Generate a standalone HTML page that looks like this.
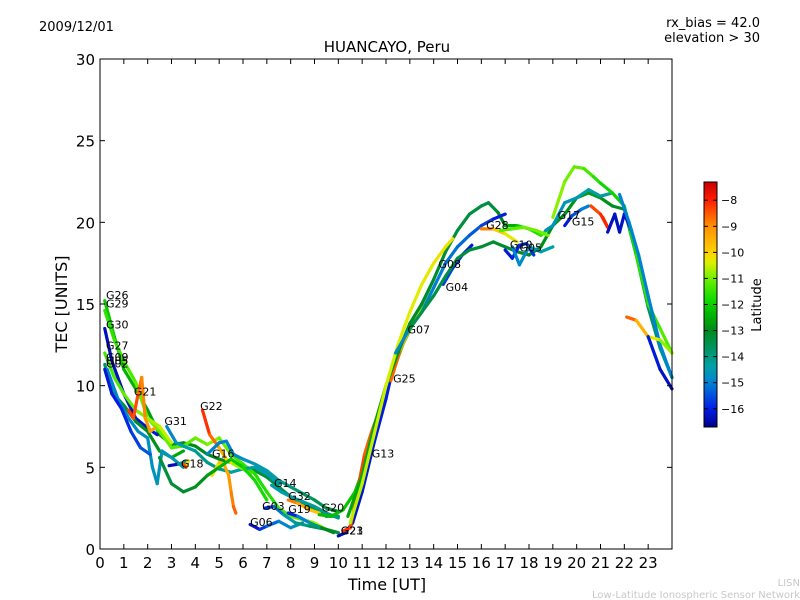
<!DOCTYPE html>
<html><head><meta charset="utf-8">
<style>
html,body{margin:0;padding:0;background:#fff;}
svg{display:block;font-family:"DejaVu Sans","Liberation Sans",sans-serif;}
</style></head>
<body>
<svg id="chart" width="800" height="600" viewBox="0 0 800 600">
  <rect x="0" y="0" width="800" height="600" fill="#fff"/>
  <text x="39" y="31" font-size="13">2009/12/01</text>
  <text x="760" y="27" font-size="13" text-anchor="end">rx_bias = 42.0</text>
  <text x="760" y="42" font-size="13" text-anchor="end">elevation &gt; 30</text>
  <text x="387" y="52" font-size="15" text-anchor="middle">HUANCAYO, Peru</text>
  <g id="series"></g>
  <g id="labels"></g>
  <rect x="100" y="59" width="572" height="490" fill="none" stroke="#000" stroke-width="1"/>
  <g id="xticks"></g>
  <g id="yticks"></g>
  <text x="387" y="590" font-size="16" text-anchor="middle">Time [UT]</text>
  <text x="0" y="0" font-size="16" text-anchor="middle" transform="translate(67,304) rotate(-90)">TEC [UNITS]</text>
  <defs>
    <linearGradient id="cbgrad" x1="0" y1="1" x2="0" y2="0"></linearGradient>
  </defs>
  <rect x="704" y="182" width="13" height="245" fill="url(#cbgrad)" stroke="#000" stroke-width="1"/>
  <g id="cbticks"></g>
  <text x="0" y="0" font-size="13" text-anchor="middle" transform="translate(761,305) rotate(-90)">Latitude</text>
  <text x="800" y="586" font-size="10" fill="#c8c8c8" text-anchor="end">LISN</text>
  <text x="800" y="598" font-size="10" fill="#c8c8c8" text-anchor="end">Low-Latitude Ionospheric Sensor Network</text>
</svg>
<script>
// ---- data ----
const xTicks = [0,1,2,3,4,5,6,7,8,9,10,11,12,13,14,15,16,17,18,19,20,21,22,23];
const yTicks = [0,5,10,15,20,25,30];
const cbTicks = [-8,-9,-10,-11,-12,-13,-14,-15,-16];
// series: name, hours, tec, latitude per point
const sHours = [], sTec = [], sLat = [], sName = [];
function add(n,h,t,l){sName.push(n);sHours.push(h);sTec.push(t);sLat.push(l);}
add('G26',[0.2,0.6,1,1.5,2,2.5,3,3.5,4,4.5,5,5.5,6,6.5,7,7.5,8,8.5,9,9.5,10],[15.2,13,11,9.8,8.5,7,6.4,6.5,6.3,5.8,5.5,5.3,5.1,4.8,4.4,3.8,3.2,2.8,2.4,2.0,2.0],[-12,-12.2,-12.3,-12.5,-12.6,-12.8,-12.8,-12.9,-13,-13,-13,-13.1,-13.2,-13.2,-13.3,-13.4,-13.4,-13.5,-13.5,-13.6,-13.6]);
add('G29',[0.2,0.6,1,1.5,2,2.5,3,3.5,4,4.5,5,5.5,6,6.5,7,7.5,8,8.5,9,9.5,10],[14.6,12.8,11.5,10.2,8,7.2,6.2,6.3,6.8,6.4,6.8,5.8,5.2,4.6,3.5,2.5,2.0,1.8,1.6,1.2,1.0],[-11.6,-11.5,-11.4,-11.2,-11.0,-11,-11.2,-11.3,-11.1,-11,-10.8,-11.3,-11.5,-11.6,-11.8,-11.5,-11.2,-11,-10.8,-10.5,-10.4]);
add('G30',[0.2,0.5,1,1.5,2,2.4],[13.5,11.5,9.5,8.0,7.4,7.0],[-16.4,-16.3,-16.3,-16.2,-16.2,-16.1]);
add('G27',[0.2,0.6,1,1.5,2,2.5,3],[12,10.5,9.5,8.5,8,7.5,6.5],[-11.4,-11.3,-11.2,-11,-10.8,-10.6,-10.5]);
add('G09',[0.2,0.5,1,1.5,2,2.5,3,3.5],[11.3,9.6,8.8,7.8,7.2,6.0,5.6,6.0],[-13.8,-13.6,-13.4,-13.2,-13,-12.8,-12.6,-12.5]);
add('G05',[0.3,0.8,1.2,1.6,2,2.2,2.4,2.6,3,3.5],[11,9,8,7.2,6.8,5.0,4.0,6.0,5.6,5.0],[-15,-15,-14.9,-14.8,-14.8,-14.7,-14.7,-14.6,-14.6,-14.5]);
add('G02',[0.2,0.5,0.9,1.3,1.7,2.1],[11,9.5,8.6,7.2,6.2,5.8],[-16.2,-16.1,-16,-15.8,-15.6,-15.3]);
add('G21',[1.2,1.4,1.6,1.75,1.9,2.1,2.3],[8.5,8.0,9.5,10.5,8.0,7.2,7.4],[-8.2,-8.3,-8.5,-8.8,-9,-9.2,-9.3]);
add('G31',[2.8,3.2,3.5,4,4.5,5,5.5,6,6.5,7,7.5],[7.5,6.5,6.3,6.0,5.3,4.9,4.7,4.9,5.0,4.6,4.0],[-15,-14.8,-14.5,-14.2,-14,-14,-14.2,-14.3,-14.4,-14.5,-14.6]);
add('G18',[2.9,3.3,3.7,3.6,3.5],[5.1,5.2,5.4,5.0,5.2],[-16.5,-16.2,-12,-8.5,-8.2]);
add('G22',[4.3,4.6,5,5.3,5.6,6,6.3],[8.5,7.0,6.2,5.5,5.2,4.9,4.6],[-8,-8.3,-9,-9.8,-10.5,-11,-11.4]);
add('G22b',[4.7,5.0,5.2,5.4,5.5,5.6,5.7],[4.5,5.3,5.2,4.5,3.5,2.6,2.2],[-10.5,-10,-9.5,-9.2,-9,-8.7,-8.5]);
add('G16',[4.5,5,5.3,5.6,6,6.5,7,7.5,8,8.5,9,9.5,10],[5.8,6.5,6.6,5.8,5.5,5.2,4.8,4.2,3.8,3.4,3.0,2.5,2.3],[-15,-15,-15,-14.9,-14.8,-14.6,-14.4,-14.2,-14,-13.8,-13.6,-13.4,-13.2]);
add('G16b',[2.5,3,3.5,4,4.5,5,5.5,6,6.5,7],[5.6,4.0,3.5,3.8,4.5,5.0,5.5,5.0,4.2,3.0],[-13.4,-13.3,-13.2,-13,-12.8,-12.5,-12.2,-12,-11.8,-11.8]);
add('G06',[6.3,6.7,7,7.5,8,8.5],[1.5,1.2,1.4,1.7,1.3,1.6],[-16.4,-16,-15.5,-15,-14.8,-14.6]);
add('G03',[6.9,7.3,7.7,8.2,8.8,9.5,10],[2.5,2.6,2.1,1.6,1.4,1.2,1.0],[-16.2,-15.5,-14.8,-14.2,-13.8,-13.5,-13.2]);
add('G14',[7.2,7.6,8,8.5,9,9.5,10],[3.9,3.5,3.2,2.9,2.6,2.2,1.9],[-14.6,-14.5,-14.4,-14.3,-14.2,-14.1,-14]);
add('G32',[7.9,8.3,8.8,9.2],[3.0,2.8,2.4,2.2],[-8.6,-9,-9.5,-10]);
add('G19',[7.9,8.3,8.8,9.3,9.8],[2.2,2.0,1.6,1.3,1.0],[-16.3,-15.5,-14.5,-13.5,-12.5]);
add('G20',[9.2,9.7,10.2,10.7,11.2,11.7,12.2,12.7,13.2],[2.1,2.0,2.4,3.5,5.5,8,10.5,12.5,14],[-12.3,-12.3,-12.2,-12.1,-12,-12,-11.9,-11.9,-11.8]);
add('G23',[10,10.3,10.6,11,11.5,12,12.5],[0.8,1.0,1.6,3.5,6.5,9.2,12.4],[-16.5,-16.4,-16.3,-16.2,-16.1,-16,-16]);
add('G13',[10.2,10.5,11.1,11.4,11.8],[1.1,1.3,5.8,7.2,8.8],[-8,-8.2,-8.5,-8.6,-8.8]);
add('G25',[12.2,12.6,13,13.4,13.8],[10.3,12.2,13.5,14.6,15.8],[-8.2,-9,-10,-10.5,-11]);
add('G07',[10.4,11,11.5,12,12.5,13,13.5,14,14.5,15,15.5,16,16.3,16.7,17,17.5,18,18.5,18.8],[2,4.5,7.5,10,12,13.8,15,16.5,18.2,19.5,20.5,21,21.2,20.6,19.8,19.8,19.6,19.2,19.6],[-12.5,-12.6,-12.7,-12.8,-12.9,-13,-13.1,-13.2,-13.2,-13.3,-13.3,-13.4,-13.4,-13.2,-12.8,-12.2,-11.8,-11.6,-11.5]);
add('G08',[10.5,11,11.5,12,12.5,13,13.5,14,14.5,14.8],[1.6,4,7,10,12.5,14.5,16.2,17.5,18.5,19],[-10.6,-10.6,-10.5,-10.5,-10.4,-10.4,-10.3,-10.3,-10.2,-10.2]);
add('G04',[12.4,13,13.5,14,14.5,15,15.5,16,16.5,17],[12,13.5,14.5,16,17.5,18.5,19.2,19.8,20.2,20.5],[-14.8,-14.9,-15,-15,-15.1,-15.2,-15.3,-15.5,-15.8,-16.3]);
add('G04b',[14.4,14.8,15.2,15.6],[16.2,17.2,18.0,18.6],[-15.5,-15.8,-16,-16.3]);
add('G12',[13,13.5,14,14.5,15,15.5,16,16.5,17,17.5,18,18.5,19,19.5,20,20.5,21,21.5,22,22.5,23,23.5,24],[13.5,14.5,15.5,16.7,17.8,18.3,18.5,18.8,18.5,18.2,18,18.5,19.8,20.5,21.5,21.8,21.5,21,20.8,18,14.8,12.3,10.5],[-13.5,-13.5,-13.4,-13.4,-13.3,-13.3,-13.2,-13.2,-13.1,-13.1,-13,-13,-12.9,-12.9,-12.8,-12.8,-12.8,-13,-13.2,-13.4,-13.6,-13.8,-14]);
add('G28',[16,16.5,17,17.5],[19.6,19.6,19.3,18.8],[-8.2,-9.5,-10.2,-10.4]);
add('G28b',[16.8,17.3,17.8,18.3,18.8],[19.5,19.6,19.7,19.5,19.2],[-11.3,-11.2,-11,-11,-11]);
add('G10',[17,17.3,17.6,17.9,18.2],[18.3,17.8,18.6,18.7,18.0],[-16.2,-16,-15.9,-15.8,-15.8]);
add('G05b',[17.3,17.6,18,18.5,19],[18.5,17.4,18.5,18.2,18.5],[-15,-14.9,-14.7,-14.5,-14.3]);
add('G17',[18.7,19,19.5,20,20.5,21,21.5],[19.5,19.8,21.2,21.5,22,21.6,21.8],[-14.8,-14.7,-14.6,-14.5,-14.4,-14.3,-14.2]);
add('G17b',[19,19.5,19.9,20.3,20.7,21,21.5,22,22.5,23,23.5,24],[20.3,22.5,23.4,23.3,22.8,22.4,21.8,21.0,18,15,13.5,12],[-10.8,-10.9,-11.1,-11.2,-11.5,-11.8,-12,-11.9,-11.7,-11.5,-11.3,-11.2]);
add('G15',[19.5,19.8,20.2,20.5],[19.8,20.4,20.8,21.0],[-16.3,-15.8,-15.2,-14.8]);
add('G15b',[20.6,21,21.3,21.1],[21.0,20.5,19.7,20.3],[-8.5,-8.2,-8,-8.1]);
add('G15c',[21.3,21.6,21.8,22,22.3],[19.4,20.5,19.4,20.5,19.5],[-16.3,-16.3,-16.3,-16.2,-16.2]);
add('G01',[21.8,22.2,22.6,23,23.5,24],[21.7,20,18,15.5,12.5,10.5],[-15,-15,-15,-15,-15,-14.9]);
add('G11',[22.1,22.5,23,23.5,24],[14.2,14,13,12.8,12],[-8.2,-9,-10,-10.6,-11]);
add('G11b',[23,23.5,24],[13,11,9.8],[-16,-16.2,-16.4]);
const labelNames = ['G26','G29','G30','G27','G09','G05','G02','G21','G31','G22','G18','G16','G14','G32','G03','G19','G06','G20','G23','G21','G13','G25','G07','G08','G04','G28','G10','G05','G17','G15'];
const labelHours = [0.25,0.25,0.25,0.25,0.25,0.25,0.25,1.42,2.7,4.2,3.4,4.7,7.3,7.9,6.8,7.9,6.3,9.3,10.1,10.1,11.4,12.3,12.9,14.2,14.5,16.2,17.2,17.6,19.2,19.8];
const labelTec = [15.3,14.8,13.5,12.2,11.5,11.3,11.1,9.4,7.6,8.5,5.0,5.6,3.8,3.0,2.4,2.2,1.4,2.3,0.9,0.9,5.6,10.2,13.2,17.2,15.8,19.6,18.4,18.2,20.2,19.8];
// ---- scales ----
const X0=100,X1=672,Y0=549,Y1=59;
const xs = h => X0 + h*(X1-X0)/24;
const ys = v => Y0 - v*(Y0-Y1)/30;
const cbTop=182, cbBot=427, latMin=-16.7, latMax=-7.3;
const cbY = l => cbBot - (l-latMin)*(cbBot-cbTop)/(latMax-latMin);
const stops=[[-16.7,[0,0,140]],[-16,[0,30,230]],[-15,[0,130,210]],[-14.4,[0,160,170]],[-13.8,[0,150,110]],[-13,[0,138,30]],[-12.4,[0,180,0]],[-11.8,[20,220,0]],[-11,[110,240,0]],[-10.4,[220,240,0]],[-10,[255,210,0]],[-9,[255,145,0]],[-8,[255,30,0]],[-7.3,[200,0,0]]];
function col(l){
  if(l<=stops[0][0])return 'rgb('+stops[0][1]+')';
  for(let i=1;i<stops.length;i++){ if(l<=stops[i][0]){const a=stops[i-1],b=stops[i];const f=(l-a[0])/(b[0]-a[0]);
    return 'rgb('+a[1].map((c,k)=>Math.round(c+(b[1][k]-c)*f)).join(',')+')';}}
  return 'rgb('+stops[stops.length-1][1]+')';
}
const NS='http://www.w3.org/2000/svg';
function mk(t,a,p){const e=document.createElementNS(NS,t);for(const k in a)e.setAttribute(k,a[k]);p.appendChild(e);return e;}
// gradient
const g=document.getElementById('cbgrad');
stops.forEach(s=>{mk('stop',{offset:((s[0]-latMin)/(latMax-latMin)),'stop-color':'rgb('+s[1]+')'},g);});
// series
const sg=document.getElementById('series');
for(let i=0;i<sName.length;i++){
  const grp=mk('g',{},sg);
  
  
  for(let j=1;j<sHours[i].length;j++){
    const seg=mk('line',{x1:xs(sHours[i][j-1]),y1:ys(sTec[i][j-1]),x2:xs(sHours[i][j]),y2:ys(sTec[i][j]),stroke:col((sLat[i][j-1]+sLat[i][j])/2),'stroke-width':3.2,'stroke-linecap':'round'},grp);
    
    
  }
}
const lg=document.getElementById('labels');
for(let i=0;i<labelNames.length;i++){
  const t=mk('text',{x:xs(labelHours[i]),y:ys(labelTec[i]),'font-size':11,fill:'#000'},lg);
  t.textContent=labelNames[i];
  
  
}
const xg=document.getElementById('xticks');
xTicks.forEach(h=>{
  const x=xs(h);
  mk('line',{x1:x,y1:Y0,x2:x,y2:Y0-5,stroke:'#000'},xg);
  mk('line',{x1:x,y1:Y1,x2:x,y2:Y1+5,stroke:'#000'},xg);
  const t=mk('text',{x:x,y:568,'font-size':15,'text-anchor':'middle'},xg);
  t.textContent=h;
  
  
});
const yg=document.getElementById('yticks');
yTicks.forEach(v=>{
  const y=ys(v);
  mk('line',{x1:X0,y1:y,x2:X0+5,y2:y,stroke:'#000'},yg);
  mk('line',{x1:X1,y1:y,x2:X1-5,y2:y,stroke:'#000'},yg);
  const t=mk('text',{x:95,y:y+6,'font-size':15,'text-anchor':'end'},yg);
  t.textContent=v;
  
  
});
const cg=document.getElementById('cbticks');
cbTicks.forEach(l=>{
  const y=cbY(l);
  mk('line',{x1:704,y1:y,x2:708,y2:y,stroke:'#000'},cg);
  mk('line',{x1:717,y1:y,x2:713,y2:y,stroke:'#000'},cg);
  const t=mk('text',{x:721,y:y+4,'font-size':11},cg);
  t.textContent='\u2212'+Math.abs(l);
  
  
});
</script>
</body></html>
